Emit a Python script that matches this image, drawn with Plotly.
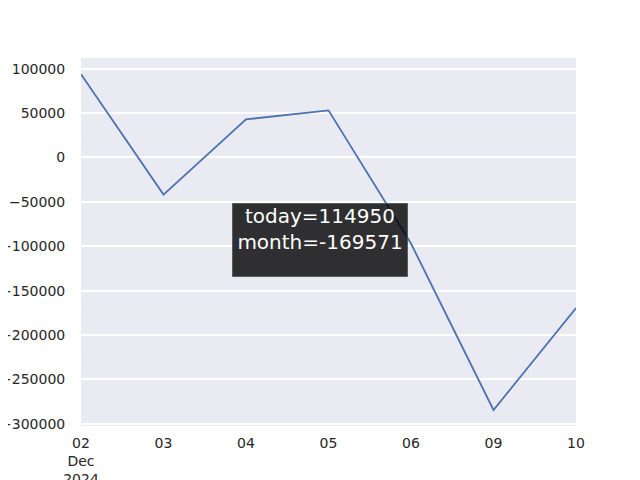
import plotly.graph_objects as go

dates = ["2024-12-02", "2024-12-03", "2024-12-04", "2024-12-05", "2024-12-06", "2024-12-09", "2024-12-10"]
tick_labels = ["02<br>Dec<br>2024", "03", "04", "05", "06", "09", "10"]
values = [93700, -41800, 42900, 53000, -97000, -284500, -169571]
today_val = 114950
month_val = -169571

y_ticks = [100000, 50000, 0, -50000, -100000, -150000, -200000, -250000, -300000]
y_tick_text = [f"{v}".replace("-", "\u2212") for v in y_ticks]

fig = go.Figure()
fig.add_trace(go.Scatter(
    x=list(range(len(dates))), y=values, mode="lines",
    line=dict(color="#4C72B0", width=1.8), hoverinfo="skip", showlegend=False,
))

fig.add_annotation(
    x=0.4828, y=0.5054, xref="paper", yref="paper",
    xanchor="center", yanchor="middle",
    text=f"today={today_val}<br>month={month_val}",
    showarrow=False, align="center", valign="top",
    width=174, height=72, borderpad=0,
    bgcolor="rgba(0,0,0,0.8)", bordercolor="rgba(80,80,80,0.8)", borderwidth=1,
    font=dict(family="DejaVu Sans", size=20, color="white"),
)

fig.update_layout(
    width=640, height=480,
    margin=dict(l=73, r=72, t=50, b=62),
    paper_bgcolor="white", plot_bgcolor="#EAEAF2",
    font=dict(family="DejaVu Sans", size=14, color="#262626"),
    xaxis=dict(
        range=[0, len(dates) - 1], tickmode="array",
        tickvals=list(range(len(dates))), ticktext=tick_labels,
        showgrid=False, zeroline=False, automargin=False,
        ticks="outside", ticklen=4, tickcolor="rgba(0,0,0,0)",
        tickfont=dict(size=14),
    ),
    yaxis=dict(
        range=[-302500, 112000], tickmode="array",
        tickvals=y_ticks, ticktext=y_tick_text,
        showgrid=True, gridcolor="white", gridwidth=1.6, zeroline=False,
        automargin=False,
        ticks="outside", ticklen=12, tickcolor="rgba(0,0,0,0)",
        tickfont=dict(size=14),
    ),
)

fig.write_html("out.html")
